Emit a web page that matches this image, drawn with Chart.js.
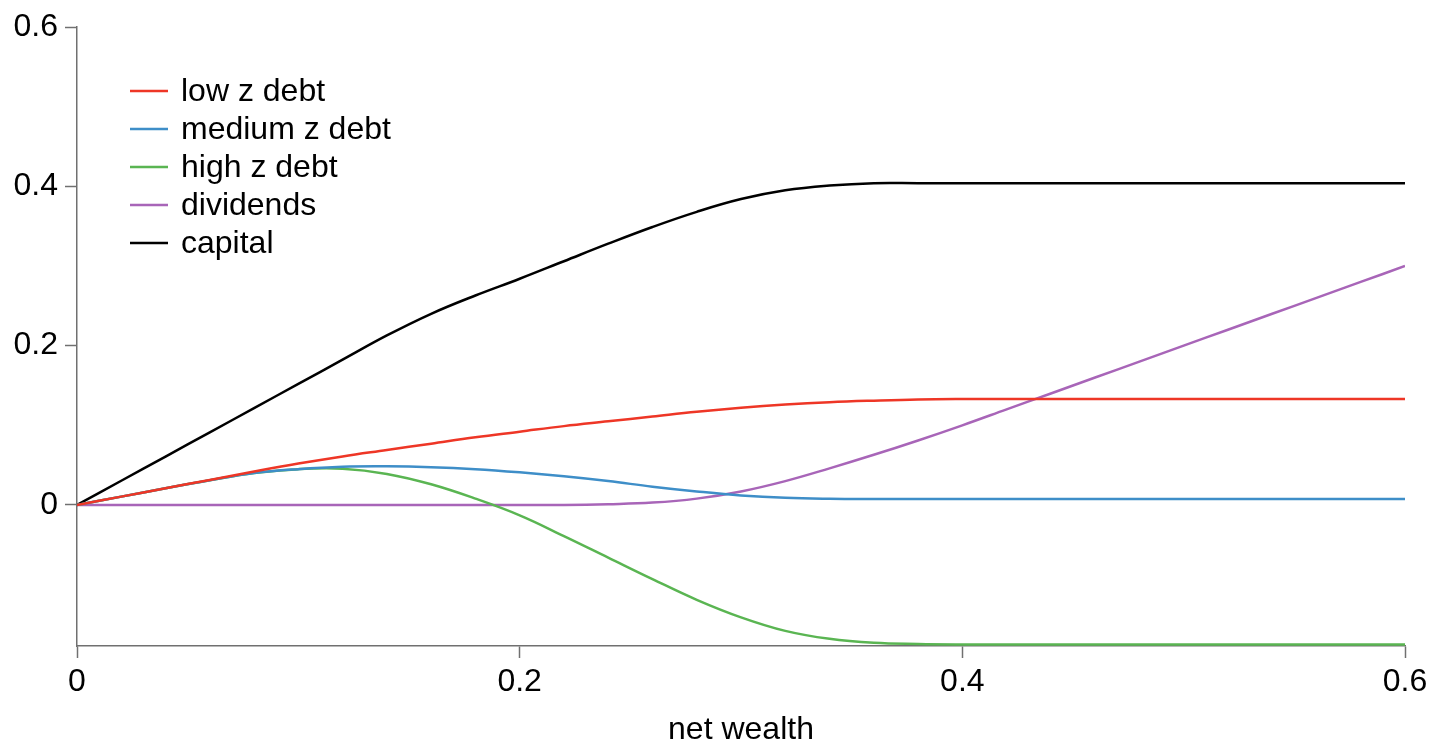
<!DOCTYPE html>
<html>
<head>
<meta charset="utf-8">
<script src="https://cdn.jsdelivr.net/npm/chart.js@4/dist/chart.umd.min.js"></script>
<style>
  html, body { margin: 0; padding: 0; background: #ffffff; }
  #wrap { width: 1434px; height: 742px; position: relative; }
</style>
</head>
<body>
<div id="wrap"><canvas id="c" width="1434" height="742"></canvas></div>
<script>
// net wealth grid
const netWealth = [0, 0.02, 0.04, 0.06, 0.08, 0.10, 0.12, 0.14, 0.16, 0.18, 0.20,
                   0.22, 0.24, 0.26, 0.28, 0.30, 0.32, 0.34, 0.36, 0.38, 0.40,
                   0.42, 0.44, 0.46, 0.48, 0.50, 0.52, 0.54, 0.56, 0.58, 0.60];

const lowZDebt = [0, 0.0105, 0.021, 0.0315, 0.042, 0.052, 0.061, 0.069, 0.077, 0.085, 0.092,
                  0.099, 0.105, 0.111, 0.117, 0.122, 0.126, 0.129, 0.131, 0.1325, 0.133,
                  0.133, 0.133, 0.133, 0.133, 0.133, 0.133, 0.133, 0.133, 0.133, 0.133];

const mediumZDebt = [0, 0.0105, 0.021, 0.031, 0.040, 0.045, 0.048, 0.0485, 0.0475, 0.045, 0.041,
                     0.036, 0.030, 0.023, 0.017, 0.012, 0.009, 0.0078, 0.0075, 0.0075, 0.0075,
                     0.0075, 0.0075, 0.0075, 0.0075, 0.0075, 0.0075, 0.0075, 0.0075, 0.0075, 0.0075];

const highZDebt = [0, 0.0105, 0.021, 0.031, 0.040, 0.045, 0.0455, 0.039, 0.026, 0.008, -0.013,
                   -0.039, -0.066, -0.093, -0.119, -0.141, -0.158, -0.168, -0.173, -0.1745, -0.175,
                   -0.175, -0.175, -0.175, -0.175, -0.175, -0.175, -0.175, -0.175, -0.175, -0.175];

const dividends = [0, 0, 0, 0, 0, 0, 0, 0, 0, 0, 0,
                   0, 0.001, 0.003, 0.008, 0.017, 0.030, 0.046, 0.063, 0.081, 0.100,
                   0.120, 0.140, 0.160, 0.180, 0.200, 0.220, 0.240, 0.260, 0.280, 0.300];

const capital = [0, 0.0304, 0.0608, 0.0912, 0.1216, 0.152, 0.1824, 0.2128, 0.240, 0.263, 0.284,
                 0.306, 0.328, 0.349, 0.368, 0.384, 0.395, 0.401, 0.404, 0.404, 0.404,
                 0.404, 0.404, 0.404, 0.404, 0.404, 0.404, 0.404, 0.404, 0.404, 0.404];

const seriesNames = ['low z debt', 'medium z debt', 'high z debt', 'dividends', 'capital'];
const seriesColors = ['#ee3626', '#3e8ec8', '#5ab552', '#a865b8', '#000000'];

const xTicks = [0, 0.2, 0.4, 0.6];
const xTickLabels = ['0', '0.2', '0.4', '0.6'];
const yTicks = [0, 0.2, 0.4, 0.6];
const yTickLabels = ['0', '0.2', '0.4', '0.6'];

const FONT = '"Liberation Sans", Arial, Helvetica, sans-serif';
const FONT_SIZE = 32;
const AXIS_COLOR = '#707070';

const seriesValues = [lowZDebt, mediumZDebt, highZDebt, dividends, capital];

const datasets = seriesValues.map((vals, i) => ({
  label: seriesNames[i],
  data: netWealth.map((x, k) => ({ x: x, y: vals[k] })),
  borderColor: seriesColors[i],
  backgroundColor: seriesColors[i],
  borderWidth: 2.5,
  pointRadius: 0,
  fill: false,
  tension: 0.4
}));

// legend drawn inside the plot area, top-left
const insideLegend = {
  id: 'insideLegend',
  afterDraw(chart) {
    const ctx = chart.ctx;
    const x0 = 130, lineLen = 38, textX = 181, y0 = 91, rowGap = 38;
    ctx.save();
    ctx.font = FONT_SIZE + 'px ' + FONT;
    ctx.textBaseline = 'middle';
    ctx.textAlign = 'left';
    chart.data.datasets.forEach((ds, i) => {
      const y = y0 + i * rowGap;
      ctx.strokeStyle = ds.borderColor;
      ctx.lineWidth = 2.5;
      ctx.beginPath();
      ctx.moveTo(x0, y);
      ctx.lineTo(x0 + lineLen, y);
      ctx.stroke();
      ctx.fillStyle = '#000000';
      ctx.fillText(ds.label, textX, y + 1);
    });
    ctx.restore();
  }
};

new Chart(document.getElementById('c'), {
  type: 'line',
  data: { datasets: datasets },
  plugins: [insideLegend],
  options: {
    responsive: false,
    animation: false,
    layout: { padding: { top: 27, right: 29, left: 0, bottom: 0 } },
    plugins: {
      legend: { display: false },
      tooltip: { enabled: false }
    },
    scales: {
      x: {
        type: 'linear',
        min: 0,
        max: 0.6,
        afterFit(scale) { scale.height = 96; },
        afterBuildTicks(scale) { scale.ticks = xTicks.map(v => ({ value: v })); },
        grid: {
          display: true,
          drawOnChartArea: false,
          drawTicks: true,
          tickLength: 12,
          tickColor: AXIS_COLOR,
          tickWidth: 1.5
        },
        border: { display: true, color: AXIS_COLOR, width: 1.5 },
        ticks: {
          padding: 5,
          color: '#000000',
          font: { family: FONT, size: FONT_SIZE },
          maxRotation: 0,
          autoSkip: false,
          callback(value) {
            const idx = xTicks.findIndex(t => Math.abs(t - value) < 1e-9);
            return idx >= 0 ? xTickLabels[idx] : '';
          }
        },
        title: {
          display: true,
          text: 'net wealth',
          color: '#000000',
          font: { family: FONT, size: FONT_SIZE },
          padding: { top: 4, bottom: -7 }
        }
      },
      y: {
        type: 'linear',
        min: -0.177,
        max: 0.6,
        afterFit(scale) { scale.width = 77; },
        afterBuildTicks(scale) { scale.ticks = yTicks.map(v => ({ value: v })); },
        grid: {
          display: true,
          drawOnChartArea: false,
          drawTicks: true,
          tickLength: 12,
          tickColor: AXIS_COLOR,
          tickWidth: 1.5
        },
        border: { display: true, color: AXIS_COLOR, width: 1.5 },
        ticks: {
          padding: 7,
          color: '#000000',
          font: { family: FONT, size: FONT_SIZE },
          autoSkip: false,
          callback(value) {
            const idx = yTicks.findIndex(t => Math.abs(t - value) < 1e-9);
            return idx >= 0 ? yTickLabels[idx] : '';
          }
        }
      }
    }
  }
});
</script>
</body>
</html>
